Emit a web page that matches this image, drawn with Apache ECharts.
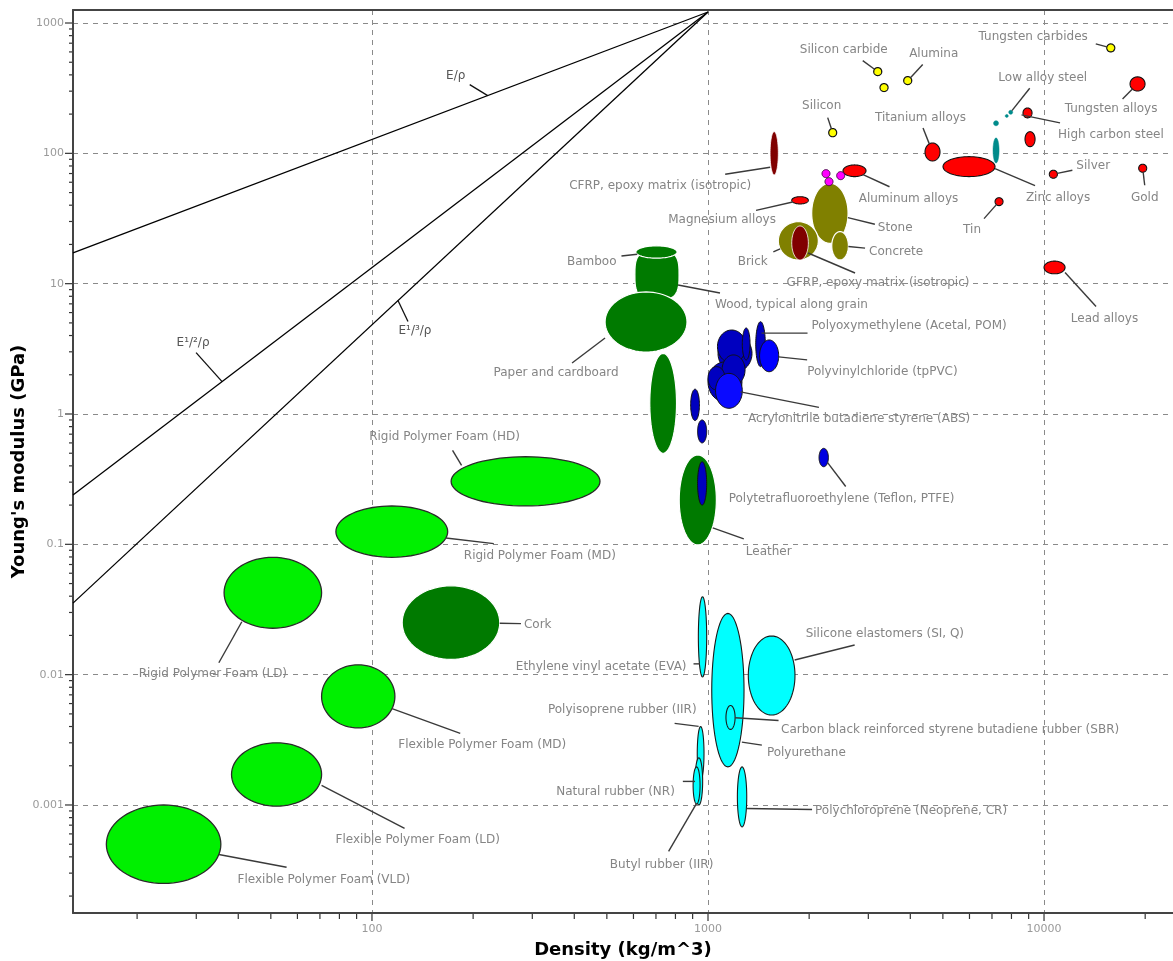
<!DOCTYPE html>
<html>
<head>
<meta charset="utf-8">
<title>Young's modulus vs density</title>
<script src="https://cdn.jsdelivr.net/npm/echarts@6/dist/echarts.min.js"></script>
<style>
  html, body { margin: 0; padding: 0; background: #fff; }
  #chart { width: 1173px; height: 961px; }
</style>
</head>
<body>
<div id="chart"></div>
<script>
// Material envelopes: [label, density min, density max (kg/m^3), modulus min, modulus max (GPa)]
const foams = [
  ['Flexible Polymer Foam (VLD)', 16.2, 35.5, 0.00025, 0.0010],
  ['Flexible Polymer Foam (LD)', 38.2, 70.8, 0.00098, 0.0030],
  ['Flexible Polymer Foam (MD)', 70.8, 117, 0.0039, 0.0119],
  ['Rigid Polymer Foam (LD)', 36.3, 70.8, 0.0227, 0.0795],
  ['Rigid Polymer Foam (MD)', 78.1, 168, 0.0795, 0.197],
  ['Rigid Polymer Foam (HD)', 172, 477, 0.197, 0.47]
];
const naturals = [
  ['Wood, typical along grain', 606, 820, 7.5, 18.1],
  ['', 671, 806, 0.50, 2.92],
  ['Bamboo', 610, 809, 15.7, 19.5],
  ['Paper and cardboard', 494, 866, 2.99, 8.64],
  ['Cork', 123, 240, 0.0131, 0.048],
  ['Leather', 821, 1059, 0.099, 0.485]
];
const elastomers = [
  ['Ethylene vinyl acetate (EVA)', 936, 991, 0.0096, 0.0396],
  ['Polyurethane', 1026, 1280, 0.00196, 0.0295],
  ['Silicone elastomers (SI, Q)', 1318, 1815, 0.0049, 0.0198],
  ['Carbon black reinforced styrene butadiene rubber (SBR)', 1131, 1204, 0.0038, 0.0058],
  ['Polyisoprene rubber (IIR)', 929, 973, 0.00155, 0.0040],
  ['Natural rubber (NR)', 915, 964, 0.0010, 0.0023],
  ['Butyl rubber (IIR)', 903, 947, 0.00102, 0.00196],
  ['Polychloroprene (Neoprene, CR)', 1223, 1304, 0.00068, 0.00196]
];
const polymers = [
  ['', 1071, 1352, 2.10, 4.04],
  ['', 1000, 1262, 1.24, 2.51],
  ['', 1067, 1297, 2.46, 4.41],
  ['', 1265, 1334, 2.60, 4.57],
  ['Polyoxymethylene (Acetal, POM)', 1387, 1481, 2.31, 5.11],
  ['Polyvinylchloride (tpPVC)', 1424, 1623, 2.11, 3.70],
  ['', 1101, 1289, 1.67, 2.84],
  ['', 1000, 1124, 1.53, 2.31],
  ['Acrylonitrile butadiene styrene (ABS)', 1053, 1265, 1.106, 2.05],
  ['', 888, 943, 0.89, 1.55],
  ['', 931, 991, 0.60, 0.90],
  ['', 931, 991, 0.20, 0.43],
  ['Polytetrafluoroethylene (Teflon, PTFE)', 2140, 2282, 0.394, 0.545]
];
const metals = [
  ['Tungsten alloys', 18030, 19980, 301, 386],
  ['Titanium alloys', 4424, 4903, 87.4, 120],
  ['Zinc alloys', 5004, 7149, 66.3, 94.3],
  ['High carbon steel', 8659, 9211, 187, 223],
  ['', 8779, 9404, 112.5, 146.7],
  ['Silver', 10370, 10960, 64.4, 74.2],
  ['Gold', 19130, 20210, 71.6, 82.5],
  ['Tin', 7149, 7551, 39.7, 45.7],
  ['Lead alloys', 10000, 11550, 11.9, 14.9],
  ['Aluminum alloys', 2522, 2953, 66.3, 81.5],
  ['Magnesium alloys', 1775, 1989, 40.9, 46.5]
];
const steels = [
  ['Low alloy steel', 7851, 8069, 199.5, 214.1],
  ['', 7665, 7826, 188.6, 198.8],
  ['', 7075, 7322, 162.9, 177.9],
  ['', 7051, 7348, 84.4, 131.3]
];
const lightAlloys = [
  ['', 2184, 2307, 65.1, 75.0],
  ['', 2229, 2355, 56.5, 65.1],
  ['', 2415, 2551, 62.8, 72.4]
];
const technicalCeramics = [
  ['Tungsten carbides', 15370, 16240, 600, 691],
  ['Silicon carbide', 3113, 3289, 395, 455],
  ['', 3250, 3434, 298, 343],
  ['Alumina', 3823, 4039, 337, 388],
  ['Silicon', 2287, 2415, 134, 155]
];
const mineralCeramics = [
  ['Stone', 2035, 2611, 20.4, 59.0],
  ['Brick', 1619, 2130, 15.2, 29.9],
  ['Concrete', 2335, 2617, 15.2, 25.1]
];
const composites = [
  ['CFRP, epoxy matrix (isotropic)', 1530, 1619, 68.3, 146.7],
  ['GFRP, epoxy matrix (isotropic)', 1775, 1989, 15.2, 27.7]
];

// Performance index guide lines: [label, [density, modulus] start, end, label anchor density]
const guideLines = [
  ['E/ρ', [12.89, 17.2], [1000, 1215], 221],
  ['E¹/²/ρ', [12.89, 0.239], [1000, 1215], 35.8],
  ['E¹/³/ρ', [12.89, 0.0354], [1000, 1215], 119.5]
];

// Axis ticks
const densityTicks = [20, 30, 40, 50, 60, 70, 80, 90, 100, 200, 300, 400, 500, 600, 700, 800, 900,
  1000, 2000, 3000, 4000, 5000, 6000, 7000, 8000, 9000, 10000, 20000];
const modulusTicks = [0.0002, 0.0003, 0.0004, 0.0005, 0.0006, 0.0007, 0.0008, 0.0009,
  0.001, 0.002, 0.003, 0.004, 0.005, 0.006, 0.007, 0.008, 0.009,
  0.01, 0.02, 0.03, 0.04, 0.05, 0.06, 0.07, 0.08, 0.09,
  0.1, 0.2, 0.3, 0.4, 0.5, 0.6, 0.7, 0.8, 0.9,
  1, 2, 3, 4, 5, 6, 7, 8, 9, 10, 20, 30, 40, 50, 60, 70, 80, 90,
  100, 200, 300, 400, 500, 600, 700, 800, 900, 1000];

const DENSITY_RANGE = [12.89, 24200];
const MODULUS_RANGE = [1.4832e-4, 1258.4];

// Label placement, in pixels relative to the envelope centre:
// [leader end dx, dy, text dx, dy, text align, optional leader start dx, dy]
const labelLayout = {
  'Flexible Polymer Foam (VLD)': [123, 23, 74, 35.5, 'left'],
  'Flexible Polymer Foam (LD)': [128, 54, 59, 65, 'left', 45, 11],
  'Flexible Polymer Foam (MD)': [102, 37, 40, 48, 'left'],
  'Rigid Polymer Foam (LD)': [-54, 70, -60, 81, 'center', -31, 29],
  'Rigid Polymer Foam (MD)': [102, 12, 72, 24, 'left'],
  'Rigid Polymer Foam (HD)': [-73, -31, -81, -44, 'center', -64, -16],
  'Cork': [70, 1, 73, 2, 'left'],
  'Paper and cardboard': [-74, 41, -90, 51, 'center', -41, 16],
  'Bamboo': [-35, 4, -40, 10, 'right'],
  'Wood, typical along grain': [63, 18, 58, 30, 'left', 21, 10],
  'Leather': [46, 39, 48, 52, 'left', 15, 28],
  'Polytetrafluoroethylene (Teflon, PTFE)': [22, 29, -95, 41, 'left'],
  'Polyoxymethylene (Acetal, POM)': [47, -11, 51, -18, 'left', 1, -11],
  'Polyvinylchloride (tpPVC)': [38, 4, 38, 16, 'left'],
  'Acrylonitrile butadiene styrene (ABS)': [90, 16.5, 19, 28.5, 'left', 11.5, 1],
  'Silicone elastomers (SI, Q)': [83, -30.5, 34, -41.5, 'left', 23, -15.5],
  'Ethylene vinyl acetate (EVA)': [-9, 27, -16, 30, 'right', -2.5, 27],
  'Polyurethane': [34, 55, 39, 63, 'left', 14, 52],
  'Carbon black reinforced styrene butadiene rubber (SBR)': [48, 3, 50.5, 12.5, 'left'],
  'Polyisoprene rubber (IIR)': [-26, -30, -4, -43, 'right', -2, -27],
  'Natural rubber (NR)': [-16, 0, -24, 10, 'right'],
  'Butyl rubber (IIR)': [-28, 66, -35, 79, 'center', 0, 18],
  'Polychloroprene (Neoprene, CR)': [70, 12.6, 73, 14.3, 'left', 4.7, 11.6],
  'Tungsten carbides': [-15, -4, -23, -11, 'right'],
  'Silicon carbide': [-15, -11, -34, -22, 'center'],
  'Alumina': [15, -16, 26, -27, 'center'],
  'Silicon': [-5, -15, -11, -27, 'center'],
  'Titanium alloys': [-9.5, -24, -12, -34, 'center'],
  'Low alloy steel': [19, -24, 32, -34, 'center'],
  'High carbon steel': [32.5, 10, 30.5, 22, 'left', -6, 2],
  'Tungsten alloys': [-15, 15, -26.5, 25, 'center'],
  'Silver': [19, -4, 23, -8, 'left'],
  'Gold': [2, 17, 2, 30, 'center'],
  'Zinc alloys': [66, 19, 89, 31.6, 'center', 26, 2],
  'Aluminum alloys': [35, 16, 54, 28, 'center'],
  'Tin': [-15, 17, -27, 28, 'center'],
  'Lead alloys': [41.5, 39, 50, 51.5, 'center', 10.5, 5],
  'Magnesium alloys': [-44, 10, -78, 20, 'center'],
  'CFRP, epoxy matrix (isotropic)': [-49, 21, -114, 33, 'center', -4, 14],
  'Stone': [45, 11, 48, 15, 'left'],
  'Concrete': [25, 2.4, 29, 6, 'left'],
  'Brick': [-25, 11, -30.6, 21, 'right'],
  'GFRP, epoxy matrix (isotropic)': [55, 30, 78, 40, 'center', 8, 10]
};
// Guide label placement relative to the anchor point on each line
const guideLabelLayout = [
  [-18, -11, -32, -20],
  [-26, -29, -29, -39],
  [10, 21, 17, 30]
];

const FONT = '"DejaVu Sans", Verdana, sans-serif';
const LABEL_COLOR = '#858585';

function envelopeBox(api, row) {
  const a = api.coord([row[1], row[4]]);
  const b = api.coord([row[2], row[3]]);
  return { cx: (a[0] + b[0]) / 2, cy: (a[1] + b[1]) / 2,
           rx: Math.abs(b[0] - a[0]) / 2, ry: Math.abs(b[1] - a[1]) / 2 };
}

function outlinePoints(box, power) {
  const pts = [];
  const n = 72;
  const e = 2 / (power || 2);
  for (let i = 0; i < n; i++) {
    const t = (i / n) * Math.PI * 2;
    const c = Math.cos(t), s = Math.sin(t);
    pts.push([box.cx + box.rx * Math.sign(c) * Math.pow(Math.abs(c), e),
              box.cy + box.ry * Math.sign(s) * Math.pow(Math.abs(s), e)]);
  }
  return pts;
}

function shapeSeries(rows, fill, stroke, lineWidth, opts) {
  opts = opts || {};
  return {
    type: 'custom',
    coordinateSystem: 'cartesian2d',
    silent: true,
    animation: false,
    data: rows.map(r => [r[1], r[2], r[3], r[4]]),
    encode: { x: [0, 1], y: [2, 3] },
    renderItem: function (params, api) {
      const row = rows[params.dataIndex];
      const box = envelopeBox(api, row);
      const power = (opts.power && opts.power[row[0]]) || 2;
      const f = (opts.fills && opts.fills[row[0]]) || fill;
      return {
        type: 'polygon',
        shape: { points: outlinePoints(box, power) },
        style: { fill: f, stroke: stroke, lineWidth: lineWidth }
      };
    }
  };
}

const allRows = [].concat(foams, naturals, elastomers, polymers, metals, steels,
  lightAlloys, technicalCeramics, mineralCeramics, composites).filter(r => labelLayout[r[0]]);

const labelSeries = {
  type: 'custom',
  coordinateSystem: 'cartesian2d',
  silent: true,
  animation: false,
  clip: false,
  data: allRows.map(r => [r[1], r[2], r[3], r[4]]),
  encode: { x: [0, 1], y: [2, 3] },
  renderItem: function (params, api) {
    const row = allRows[params.dataIndex];
    const L = labelLayout[row[0]];
    const box = envelopeBox(api, row);
    let sx, sy;
    if (L.length > 5) {
      sx = box.cx + L[5]; sy = box.cy + L[6];
    } else {
      const dx = L[0], dy = L[1];
      const t = 1 / Math.sqrt(Math.pow(dx / Math.max(box.rx, 0.5), 2) + Math.pow(dy / Math.max(box.ry, 0.5), 2));
      sx = box.cx + dx * t; sy = box.cy + dy * t;
    }
    return {
      type: 'group',
      children: [
        { type: 'line', shape: { x1: sx, y1: sy, x2: box.cx + L[0], y2: box.cy + L[1] },
          style: { stroke: '#3a3a3a', lineWidth: 1.4 } },
        { type: 'text', style: { text: row[0], x: box.cx + L[2], y: box.cy + L[3],
          align: L[4], verticalAlign: 'middle', fill: LABEL_COLOR, font: '12px ' + FONT } }
      ]
    };
  }
};

function pointOnGuide(g, density) {
  const lx1 = Math.log10(g[1][0]), ly1 = Math.log10(g[1][1]);
  const lx2 = Math.log10(g[2][0]), ly2 = Math.log10(g[2][1]);
  const lx = Math.log10(density);
  return [density, Math.pow(10, ly1 + (lx - lx1) * (ly2 - ly1) / (lx2 - lx1))];
}

const guideLabelSeries = {
  type: 'custom',
  coordinateSystem: 'cartesian2d',
  silent: true,
  animation: false,
  clip: false,
  data: guideLines.map(g => pointOnGuide(g, g[3])),
  renderItem: function (params, api) {
    const g = guideLines[params.dataIndex];
    const L = guideLabelLayout[params.dataIndex];
    const p = api.coord(pointOnGuide(g, g[3]));
    return {
      type: 'group',
      children: [
        { type: 'line', shape: { x1: p[0], y1: p[1], x2: p[0] + L[0], y2: p[1] + L[1] },
          style: { stroke: '#111', lineWidth: 1.3 } },
        { type: 'text', style: { text: g[0], x: p[0] + L[2], y: p[1] + L[3],
          align: 'center', verticalAlign: 'middle', fill: '#555', font: '12px ' + FONT } }
      ]
    };
  }
};

function isDecade(v) {
  const l = Math.log10(v);
  return Math.abs(l - Math.round(l)) < 1e-6;
}

const tickSeries = [
  {
    type: 'custom', coordinateSystem: 'cartesian2d', silent: true, animation: false, clip: false,
    data: densityTicks.map(v => [v, 1]),
    renderItem: function (params, api) {
      const v = densityTicks[params.dataIndex];
      const x = api.coord([v, 1])[0];
      const y0 = params.coordSys.y + params.coordSys.height + 1;
      const len = isDecade(v) ? 7 : 5;
      return { type: 'line', shape: { x1: x, y1: y0, x2: x, y2: y0 + len },
               style: { stroke: '#333', lineWidth: 1.2 } };
    }
  },
  {
    type: 'custom', coordinateSystem: 'cartesian2d', silent: true, animation: false, clip: false,
    data: modulusTicks.map(v => [100, v]),
    renderItem: function (params, api) {
      const v = modulusTicks[params.dataIndex];
      const y = api.coord([100, v])[1];
      const x0 = params.coordSys.x - 1;
      const len = isDecade(v) ? 7 : 3;
      return { type: 'line', shape: { x1: x0, y1: y, x2: x0 - len, y2: y },
               style: { stroke: '#333', lineWidth: 1.2 } };
    }
  }
];

function decadeLabel(v) {
  if (!isDecade(v)) return '';
  const r = Math.round(Math.log10(v));
  return r >= 0 ? String(Math.pow(10, r)) : Math.pow(10, r).toFixed(-r);
}

const axisCommon = {
  type: 'log',
  logBase: 10,
  axisLine: { show: true, lineStyle: { color: '#444', width: 2 } },
  axisTick: { show: false },
  minorTick: { show: false },
  splitLine: { show: true, lineStyle: { color: '#8a8a8a', type: [5, 5], width: 1 } },
  nameLocation: 'middle',
  nameMoveOverlap: false,
  nameTextStyle: { fontFamily: FONT, fontWeight: 'bold', fontSize: 18, color: '#000' }
};

const chart = echarts.init(document.getElementById('chart'), null, { renderer: 'canvas' });
chart.setOption({
  animation: false,
  backgroundColor: '#fff',
  grid: { left: 73, right: 0, top: 10, bottom: 48, containLabel: false, outerBoundsMode: 'none',
          show: true, borderWidth: 0, backgroundColor: '#fff' },
  xAxis: [
    Object.assign({}, axisCommon, {
      min: DENSITY_RANGE[0], max: DENSITY_RANGE[1],
      name: 'Density (kg/m^3)', nameGap: 28,
      axisLabel: { formatter: decadeLabel, color: '#9a9a9a', fontSize: 11, fontFamily: FONT, margin: 11 }
    }),
    {
      type: 'log', logBase: 10, position: 'top',
      min: DENSITY_RANGE[0], max: DENSITY_RANGE[1],
      axisLine: { show: true, lineStyle: { color: '#444', width: 2 } },
      axisTick: { show: false }, axisLabel: { show: false }, splitLine: { show: false }
    }
  ],
  yAxis: Object.assign({}, axisCommon, {
    min: MODULUS_RANGE[0], max: MODULUS_RANGE[1],
    name: "Young's modulus (GPa)", nameGap: 45,
    axisLabel: { formatter: decadeLabel, color: '#9a9a9a', fontSize: 11, fontFamily: FONT, margin: 9 }
  }),
  series: [
    ...guideLines.map(g => ({
      type: 'line', silent: true, animation: false, showSymbol: false, symbol: 'none',
      data: [g[1], g[2]], lineStyle: { color: '#000', width: 1.3 }
    })),
    shapeSeries(foams, '#00f000', '#2a2a2a', 1.3),
    shapeSeries(naturals, '#007a00', '#ffffff', 1.2, { power: { 'Wood, typical along grain': 3.2 } }),
    shapeSeries(elastomers, '#00ffff', '#1a1a1a', 1.1),
    shapeSeries(polymers, '#0000c0', '#111111', 1, { fills: {
      'Polyvinylchloride (tpPVC)': '#0000ff',
      'Acrylonitrile butadiene styrene (ABS)': '#0a0aff',
      'Polytetrafluoroethylene (Teflon, PTFE)': '#0000e0' } }),
    shapeSeries(mineralCeramics, '#808000', '#ffffff', 1.2),
    shapeSeries(composites, '#800000', '#ffffff', 0.8),
    shapeSeries(metals, '#ff0000', '#111111', 1.1),
    shapeSeries(steels, '#008b8b', '#008b8b', 0.5),
    shapeSeries(lightAlloys, '#ff00ff', '#400040', 1),
    shapeSeries(technicalCeramics, '#ffff00', '#111111', 1.2),
    ...tickSeries,
    labelSeries,
    guideLabelSeries
  ]
});
</script>
</body>
</html>
